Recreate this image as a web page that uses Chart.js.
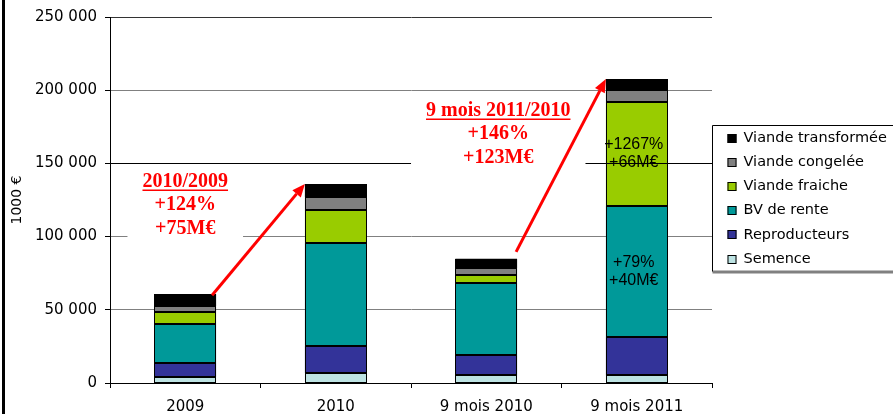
<!DOCTYPE html>
<html lang="fr">
<head>
<meta charset="UTF-8">
<title>Exportations bovines</title>
<script src="https://cdn.jsdelivr.net/npm/chart.js"></script>
<style>
  html, body { margin: 0; padding: 0; background: #fff; }
  #chart { display: block; }
</style>
</head>
<body>
<canvas id="chart" width="893" height="414"></canvas>
<script>
// values in 1000 €
const categories = ['2009', '2010', '9 mois 2010', '9 mois 2011'];
const semence = [4300, 6600, 5200, 5200];
const reproducteurs = [9300, 18800, 13600, 26300];
const bvRente = [27000, 70400, 49700, 89500];
const viandeFraiche = [7900, 22700, 5200, 71100];
const viandeCongelee = [3900, 8400, 4800, 8000];
const viandeTransformee = [8200, 9100, 6300, 7500];
const seriesNames = ['Semence', 'Reproducteurs', 'BV de rente', 'Viande fraiche', 'Viande congelée', 'Viande transformée'];
const yTickValues = [0, 50000, 100000, 150000, 200000, 250000];
const yTickLabels = ['0', '50 000', '100 000', '150 000', '200 000', '250 000'];
const yTitle = '1000 €';
const growthNotes = [['2010/2009', '+124%', '+75M€'], ['9 mois 2011/2010', '+146%', '+123M€']];
const insideNotes = [['+1267%', '+66M€'], ['+79%', '+40M€']];

const series = [semence, reproducteurs, bvRente, viandeFraiche, viandeCongelee, viandeTransformee];
const colors = ['#BDE3E3', '#333399', '#009999', '#99CC00', '#808080', '#000000'];
const sansWide = '"DejaVu Sans", Verdana, sans-serif';

function arrow(c, x1, y1, x2, y2) {
  const ang = Math.atan2(y2 - y1, x2 - x1), len = 13, half = 5.5;
  const bx = x2 - len * Math.cos(ang), by = y2 - len * Math.sin(ang);
  c.beginPath();
  c.moveTo(x1, y1);
  c.lineTo(bx, by);
  c.stroke();
  c.beginPath();
  c.moveTo(x2, y2);
  c.lineTo(bx + half * Math.sin(ang), by - half * Math.cos(ang));
  c.lineTo(bx - half * Math.sin(ang), by + half * Math.cos(ang));
  c.closePath();
  c.fill();
}

function redNote(c, lines, cx, y0) {
  c.font = 'bold 20px "Liberation Serif", "Times New Roman", serif';
  const w = Math.max(...lines.map(t => c.measureText(t).width));
  c.fillStyle = '#fff';
  c.fillRect(cx - w / 2 - 15, y0 - 13, w + 30, 23.5 * (lines.length - 1) + 24);
  c.fillStyle = '#f00';
  c.strokeStyle = '#f00';
  c.textAlign = 'center';
  c.textBaseline = 'middle';
  lines.forEach((t, i) => c.fillText(t, cx, y0 + i * 23.5));
  const w0 = c.measureText(lines[0]).width;
  c.lineWidth = 1.5;
  c.beginPath();
  c.moveTo(cx - w0 / 2, y0 + 8.5);
  c.lineTo(cx + w0 / 2, y0 + 8.5);
  c.stroke();
}

const decor = {
  id: 'decor',
  beforeDraw(chart) {
    const c = chart.ctx;
    c.save();
    c.fillStyle = '#fff';
    c.fillRect(0, 0, chart.width, chart.height);
    c.fillStyle = '#000';
    c.fillRect(2, 0, 3, chart.height);
    c.restore();
  },
  afterDatasetsDraw(chart) {
    const c = chart.ctx, xs = chart.scales.x, ys = chart.scales.y, a = chart.chartArea;
    const top = chart.getDatasetMeta(series.length - 1).data;
    c.save();

    // crisp outlines round every segment
    c.strokeStyle = '#000';
    c.lineWidth = 1;
    chart.data.datasets.forEach((d, i) => {
      chart.getDatasetMeta(i).data.forEach(el => {
        const l = Math.round(el.x - el.width / 2) + 0.5;
        const r = Math.round(el.x + el.width / 2) - 0.5;
        const t = Math.round(el.y) + 0.5;
        const b = Math.round(el.base) - 0.5;
        c.strokeRect(l, t, r - l, b - t);
      });
    });

    // the 150 000 line runs across the last bar
    const y150 = Math.round(ys.getPixelForValue(150000)) + 0.5;
    c.beginPath();
    c.moveTo(a.left, y150);
    c.lineTo(a.right, y150);
    c.stroke();

    // notes inside the last bar
    const k = 3;
    const b0 = semence[k] + reproducteurs[k];
    const b1 = b0 + bvRente[k];
    const b2 = b1 + viandeFraiche[k];
    const tx = top[k].x - 3;
    c.fillStyle = '#000';
    c.font = '16px "Liberation Sans", Arial, sans-serif';
    c.textAlign = 'center';
    c.textBaseline = 'middle';
    [[insideNotes[0], (b1 + b2) / 2], [insideNotes[1], (b0 + b1) / 2]].forEach(([lines, v]) => {
      const py = ys.getPixelForValue(v);
      c.fillText(lines[0], tx, py - 9);
      c.fillText(lines[1], tx, py + 9);
    });

    // growth notes and arrows
    redNote(c, growthNotes[0], xs.getPixelForValue(0), ys.getPixelForValue(137500));
    redNote(c, growthNotes[1], xs.getPixelForValue(2) + 12, ys.getPixelForValue(186000));

    c.strokeStyle = '#f00';
    c.fillStyle = '#f00';
    c.lineWidth = 3;
    arrow(c, top[0].x + top[0].width / 2 - 4, top[0].y + 1, top[1].x - top[1].width / 2, top[1].y);
    arrow(c, top[2].x + top[2].width / 2 - 1, top[2].y - 7, top[3].x - top[3].width / 2, top[3].y);
    c.restore();
  },
  afterDraw(chart) {
    const c = chart.ctx, a = chart.chartArea;
    const lx = Math.round(a.right) + 0.5, ly = 125.5, lh = 146;
    c.save();
    c.fillStyle = '#fff';
    c.fillRect(lx, ly, chart.width, lh);
    c.fillStyle = '#808080';
    c.fillRect(lx, ly + lh - 1, chart.width, 3);
    c.strokeStyle = '#000';
    c.lineWidth = 1;
    c.beginPath();
    c.moveTo(lx, ly + lh);
    c.lineTo(lx, ly);
    c.lineTo(chart.width, ly);
    c.stroke();

    c.font = '14.5px ' + sansWide;
    c.textAlign = 'left';
    c.textBaseline = 'middle';
    const ds = chart.data.datasets;
    for (let i = ds.length - 1, r = 0; i >= 0; i--, r++) {
      const ry = 138 + r * 24.2;
      c.fillStyle = ds[i].backgroundColor;
      c.fillRect(lx + 15, Math.round(ry - 4.5), 9, 9);
      c.strokeStyle = '#000';
      c.strokeRect(lx + 15.5, Math.round(ry - 4.5) + 0.5, 8, 8);
      c.fillStyle = '#000';
      c.fillText(ds[i].label, lx + 31, ry);
    }
    c.restore();
  }
};

new Chart(document.getElementById('chart'), {
  type: 'bar',
  data: {
    labels: categories,
    datasets: series.map((d, i) => ({
      label: seriesNames[i],
      data: d,
      backgroundColor: colors[i],
      borderWidth: 0
    }))
  },
  options: {
    responsive: false,
    animation: false,
    devicePixelRatio: 1,
    layout: { padding: { left: 0, right: 181, top: 16, bottom: 0 } },
    datasets: { bar: { categoryPercentage: 1, barPercentage: 0.41 } },
    plugins: { legend: { display: false }, tooltip: { enabled: false } },
    scales: {
      x: {
        stacked: true,
        offset: true,
        grid: {
          offset: true,
          color: ctx => ctx.index === categories.length ? '#000' : 'rgba(0,0,0,0)',
          tickColor: '#000',
          tickLength: 5
        },
        border: { color: '#000', width: 1 },
        ticks: { color: '#000', font: { family: sansWide, size: 15 }, padding: 10, maxRotation: 0 },
        afterFit: s => { s.height = 31; }
      },
      y: {
        stacked: true,
        min: 0,
        max: 250000,
        grid: {
          color: ctx => {
            const v = ctx.tick && ctx.tick.value;
            return v === 150000 ? '#000' : v === 250000 ? '#333' : '#808080';
          },
          tickColor: '#000',
          tickLength: 5
        },
        border: { color: '#000', width: 1 },
        ticks: {
          stepSize: 50000,
          color: '#000',
          font: { family: sansWide, size: 15 },
          padding: 8,
          callback: v => yTickLabels[yTickValues.indexOf(v)]
        },
        title: {
          display: true,
          text: yTitle,
          color: '#000',
          font: { family: sansWide, size: 14 },
          padding: { top: 9, bottom: 0 }
        },
        afterFit: s => { s.width = 110; }
      }
    }
  },
  plugins: [decor]
});
</script>
</body>
</html>
